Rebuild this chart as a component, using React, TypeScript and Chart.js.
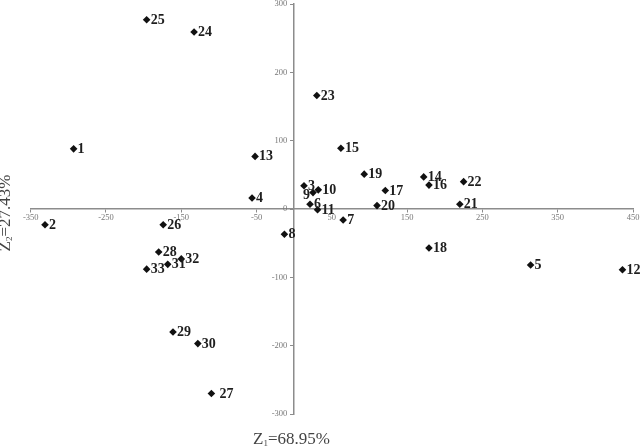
import React, { useEffect, useRef } from 'react';
import { Chart, registerables } from 'chart.js';

Chart.register(...registerables);

const pointLabels = ['1','2','3','4','5','6','7','8','9','10','11','12','13','14','15','16','17','18','19','20','21','22','23','24','25','26','27','28','29','30','31','32','33'];
const z1Values = [-293, -331, 13, -56, 314, 21, 65, -13, 25, 32, 31, 436, -52, 172, 62, 179, 121, 179, 93, 110, 220, 225, 30, -133, -196, -174, -110, -180, -161, -128, -168, -150, -196];
const z2Values = [88, -23, 34, 16, -82, 7, -16, -37, 24, 28, -1, -89, 77, 47, 89, 35, 27, -57, 51, 5, 7, 40, 166, 259, 277, -23, -270, -63, -180, -197, -81, -73, -88];
const xTicks = [-350, -250, -150, -50, 50, 150, 250, 350, 450];
const yTicks = [-300, -200, -100, 0, 100, 200, 300];
const xTitleParts = ['Z', '1', '=68.95%'];
const yTitleParts = ['Z', '2', '=27.43%'];

const SERIF = '"Liberation Serif", "Times New Roman", serif';
const TICK_COLOR = '#777';
const TICK_SIZE = 8.5;

function drawSubText(ctx: CanvasRenderingContext2D, parts: string[], size: number) {
  const big = `${size}px ${SERIF}`;
  const small = `${Math.round(size * 0.55)}px ${SERIF}`;
  ctx.font = big;
  const w0 = ctx.measureText(parts[0]).width;
  ctx.font = small;
  const w1 = ctx.measureText(parts[1]).width;
  ctx.font = big;
  const w2 = ctx.measureText(parts[2]).width;
  return {
    width: w0 + w1 + w2,
    draw: (x: number, y: number) => {
      ctx.textAlign = 'left';
      ctx.textBaseline = 'alphabetic';
      ctx.font = big;
      ctx.fillText(parts[0], x, y);
      ctx.font = small;
      ctx.fillText(parts[1], x + w0, y + size * 0.12);
      ctx.font = big;
      ctx.fillText(parts[2], x + w0 + w1, y);
    },
  };
}

const labelPlugin = {
  id: 'pointLabels',
  afterDatasetsDraw(chart: any) {
    const ctx = chart.ctx as CanvasRenderingContext2D;
    const meta = chart.getDatasetMeta(0);
    ctx.save();
    ctx.fillStyle = '#1e1e1e';
    ctx.font = `bold 14px ${SERIF}`;
    ctx.textBaseline = 'middle';
    meta.data.forEach((el: any, i: number) => {
      const lab = pointLabels[i];
      if (lab === '9') {
        ctx.textAlign = 'right';
        ctx.fillText(lab, el.x - 3, el.y + 3);
      } else {
        ctx.textAlign = 'left';
        const off = lab === '27' ? 8 : 4;
        ctx.fillText(lab, el.x + off, el.y + 0.5);
      }
    });
    ctx.restore();
  },
  afterDraw(chart: any) {
    const ctx = chart.ctx as CanvasRenderingContext2D;
    ctx.save();
    // y-axis tick labels, to the left of the centred axis
    const xs = chart.scales.x;
    const ys = chart.scales.y;
    const axisX = xs.getPixelForValue(0);
    ctx.fillStyle = TICK_COLOR;
    ctx.font = `${TICK_SIZE}px ${SERIF}`;
    ctx.textAlign = 'right';
    ctx.textBaseline = 'middle';
    yTicks.forEach((v) => {
      ctx.fillText(String(v), axisX - 7, ys.getPixelForValue(v));
    });
    // axis titles
    ctx.fillStyle = '#444';
    const xt = drawSubText(ctx, xTitleParts, 17);
    xt.draw(253, 444);
    const yt = drawSubText(ctx, yTitleParts, 17);
    ctx.translate(10, 213 + yt.width / 2);
    ctx.rotate(-Math.PI / 2);
    yt.draw(0, 0);
    ctx.restore();
  },
};

export default function App() {
  const ref = useRef<HTMLCanvasElement>(null);
  useEffect(() => {
    if (!ref.current) return;
    const axisColor = '#8c8c8c';
    const tickFont = { family: SERIF, size: TICK_SIZE };
    const chart = new Chart(ref.current, {
      type: 'scatter',
      data: {
        datasets: [
          {
            data: z1Values.map((x, i) => ({ x, y: z2Values[i] })),
            pointStyle: 'rectRot',
            radius: 3.8,
            backgroundColor: '#111',
            borderColor: '#111',
            borderWidth: 0,
          },
        ],
      },
      options: {
        responsive: false,
        animation: false,
        devicePixelRatio: 1,
        layout: { padding: { left: 30.7, right: 8, top: 4, bottom: 32 } },
        plugins: { legend: { display: false }, tooltip: { enabled: false } },
        scales: {
          x: {
            type: 'linear',
            min: -350,
            max: 450,
            position: { y: 0 } as any,
            afterBuildTicks: (s: any) => {
              s.ticks = xTicks.map((v) => ({ value: v }));
            },
            afterFit: (s: any) => {
              s.height = 0;
            },
            grid: { drawOnChartArea: false, drawTicks: true, tickLength: 3, color: axisColor },
            border: { color: axisColor, width: 1.5 },
            ticks: { autoSkip: false, maxRotation: 0, padding: 1, font: tickFont, color: TICK_COLOR },
          },
          y: {
            type: 'linear',
            min: -300,
            max: 300,
            position: { x: 0 } as any,
            afterBuildTicks: (s: any) => {
              s.ticks = yTicks.map((v) => ({ value: v }));
            },
            afterFit: (s: any) => {
              s.width = 0;
            },
            grid: { drawOnChartArea: false, drawTicks: true, tickLength: 3, color: axisColor },
            border: { color: axisColor, width: 1.5 },
            ticks: { display: false },
          },
        },
      },
      plugins: [labelPlugin],
    });
    return () => chart.destroy();
  }, []);
  return (
    <div style={{ position: 'fixed', left: 0, top: 0, width: 641, height: 446, background: '#fff' }}>
      <canvas ref={ref} width={641} height={446} style={{ width: 641, height: 446, display: 'block' }} />
    </div>
  );
}
